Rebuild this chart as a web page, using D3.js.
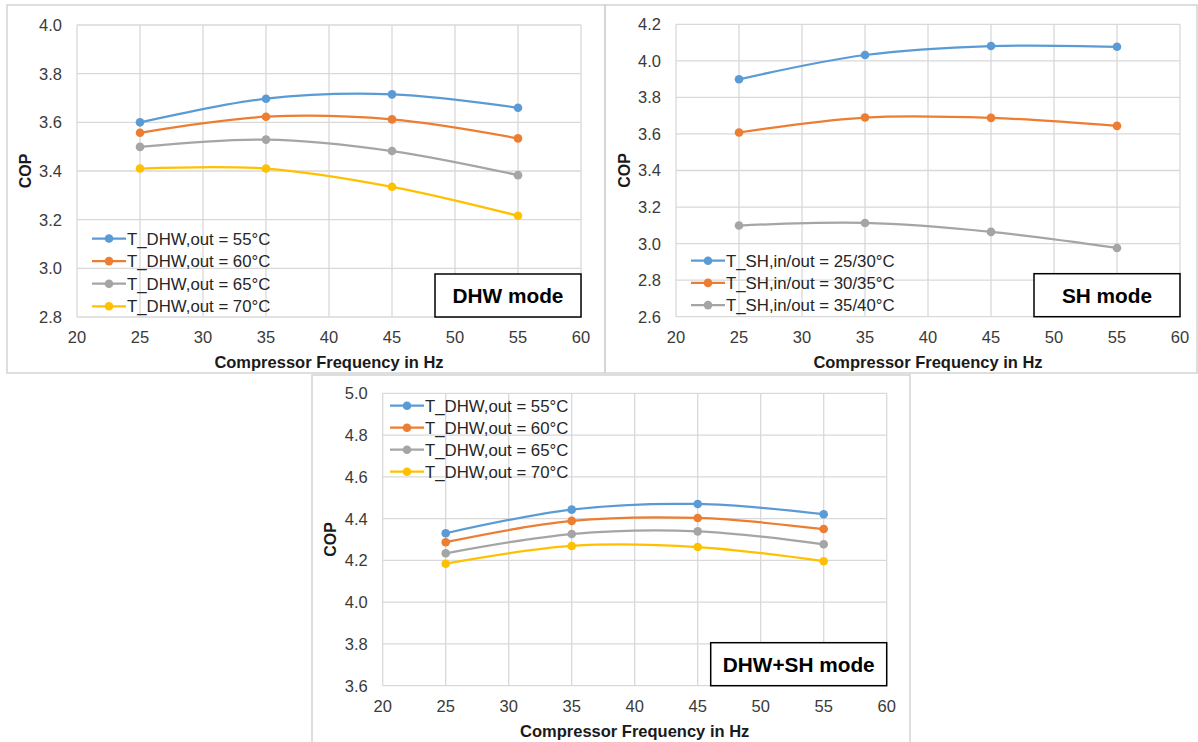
<!DOCTYPE html>
<html>
<head>
<meta charset="utf-8">
<script src="https://cdn.jsdelivr.net/npm/d3@7"></script>
<style>
  body { margin: 0; background: #fff; }
  svg { display: block; font-family: "Liberation Sans", Arial, sans-serif; }
</style>
</head>
<body>
<svg id="chart" width="1198" height="742"></svg>
<script>
// compressor frequency (x) shared by all three charts
var freqHz = [25, 35, 45, 55];
var xTicks = [20, 25, 30, 35, 40, 45, 50, 55, 60];

// DHW mode
var dhwNames = ["T_DHW,out = 55°C", "T_DHW,out = 60°C", "T_DHW,out = 65°C", "T_DHW,out = 70°C"];
var dhw55 = [3.60, 3.697, 3.715, 3.66];
var dhw60 = [3.557, 3.623, 3.612, 3.534];
var dhw65 = [3.499, 3.529, 3.482, 3.383];
var dhw70 = [3.41, 3.41, 3.335, 3.216];
var dhwYTicks = [2.8, 3.0, 3.2, 3.4, 3.6, 3.8, 4.0];

// SH mode
var shNames = ["T_SH,in/out = 25/30°C", "T_SH,in/out = 30/35°C", "T_SH,in/out = 35/40°C"];
var sh25 = [3.899, 4.032, 4.081, 4.077];
var sh30 = [3.608, 3.690, 3.688, 3.644];
var sh35 = [3.099, 3.113, 3.064, 2.976];
var shYTicks = [2.6, 2.8, 3.0, 3.2, 3.4, 3.6, 3.8, 4.0, 4.2];

// DHW+SH mode
var combNames = ["T_DHW,out = 55°C", "T_DHW,out = 60°C", "T_DHW,out = 65°C", "T_DHW,out = 70°C"];
var comb55 = [4.330, 4.443, 4.470, 4.421];
var comb60 = [4.287, 4.389, 4.403, 4.350];
var comb65 = [4.234, 4.326, 4.339, 4.277];
var comb70 = [4.184, 4.269, 4.264, 4.196];
var combYTicks = [3.6, 3.8, 4.0, 4.2, 4.4, 4.6, 4.8, 5.0];

var colors = ["#5b9bd5", "#ed7d31", "#a5a5a5", "#ffc000"];

var svg = d3.select("#chart");

function drawPanel(cfg) {
  var g = svg.append("g");

  // frame around the whole chart
  g.append("rect")
    .attr("x", cfg.frame[0]).attr("y", cfg.frame[1])
    .attr("width", cfg.frame[2] - cfg.frame[0]).attr("height", cfg.frame[3] - cfg.frame[1])
    .attr("fill", "none").attr("stroke", "#d4d4d4").attr("stroke-width", 1.5);

  var x = d3.scaleLinear().domain([20, 60]).range([cfg.plot[0], cfg.plot[2]]);
  var y = d3.scaleLinear().domain(d3.extent(cfg.yTicks)).range([cfg.plot[3], cfg.plot[1]]);

  // grid
  g.append("g").selectAll("line").data(cfg.yTicks).join("line")
    .attr("x1", cfg.plot[0]).attr("x2", cfg.plot[2])
    .attr("y1", function (d) { return y(d); }).attr("y2", function (d) { return y(d); })
    .attr("stroke", "#d9d9d9").attr("stroke-width", 1.3);
  g.append("g").selectAll("line").data(xTicks).join("line")
    .attr("y1", cfg.plot[1]).attr("y2", cfg.plot[3])
    .attr("x1", function (d) { return x(d); }).attr("x2", function (d) { return x(d); })
    .attr("stroke", "#d9d9d9").attr("stroke-width", 1.3);

  // tick labels
  g.append("g").selectAll("text").data(cfg.yTicks).join("text")
    .attr("x", cfg.plot[0] - 15).attr("y", function (d) { return y(d); })
    .attr("dy", "0.36em").attr("text-anchor", "end")
    .attr("font-size", 16.5).attr("fill", "#3a3a3a")
    .text(function (d) { return d3.format(".1f")(d); });
  g.append("g").selectAll("text").data(xTicks).join("text")
    .attr("x", function (d) { return x(d); }).attr("y", cfg.plot[3] + 20)
    .attr("dy", "0.36em").attr("text-anchor", "middle")
    .attr("font-size", 16.5).attr("fill", "#3a3a3a")
    .text(function (d) { return d; });

  // axis titles
  g.append("text")
    .attr("x", (cfg.plot[0] + cfg.plot[2]) / 2).attr("y", cfg.plot[3] + 45)
    .attr("dy", "0.36em").attr("text-anchor", "middle")
    .attr("font-size", 16.5).attr("font-weight", "bold").attr("fill", "#1a1a1a")
    .text("Compressor Frequency in Hz");
  g.append("text")
    .attr("transform", "translate(" + (cfg.plot[0] - 52) + "," + ((cfg.plot[1] + cfg.plot[3]) / 2) + ") rotate(-90)")
    .attr("dy", "0.36em").attr("text-anchor", "middle")
    .attr("font-size", 16).attr("font-weight", "bold").attr("fill", "#1a1a1a")
    .text("COP");

  // mode label box
  var bw = cfg.boxWidth, bh = 43;
  g.append("rect")
    .attr("x", cfg.plot[2] - bw).attr("y", cfg.plot[3] - bh)
    .attr("width", bw).attr("height", bh)
    .attr("fill", "#fff").attr("stroke", "#000").attr("stroke-width", 1.5);
  g.append("text")
    .attr("x", cfg.plot[2] - bw / 2).attr("y", cfg.plot[3] - bh / 2)
    .attr("dy", "0.36em").attr("text-anchor", "middle")
    .attr("font-size", 20.8).attr("font-weight", "bold").attr("fill", "#000")
    .text(cfg.mode);

  // series
  var line = d3.line()
    .x(function (d, i) { return x(freqHz[i]); })
    .y(function (d) { return y(d); })
    .curve(d3.curveCardinal.tension(0));

  cfg.series.forEach(function (vals, k) {
    g.append("path").datum(vals)
      .attr("d", line).attr("fill", "none")
      .attr("stroke", colors[k]).attr("stroke-width", 2.25);
    g.append("g").selectAll("circle").data(vals).join("circle")
      .attr("cx", function (d, i) { return x(freqHz[i]); })
      .attr("cy", function (d) { return y(d); })
      .attr("r", 4.3).attr("fill", colors[k]);
  });

  // legend
  var lg = g.append("g");
  cfg.names.forEach(function (name, k) {
    var ly = cfg.legend[1] + k * cfg.legend[2];
    var lx = cfg.legend[0];
    lg.append("line").attr("x1", lx).attr("x2", lx + 34).attr("y1", ly).attr("y2", ly)
      .attr("stroke", colors[k]).attr("stroke-width", 2.25);
    lg.append("circle").attr("cx", lx + 17).attr("cy", ly).attr("r", 4.3).attr("fill", colors[k]);
    lg.append("text").attr("x", lx + 35).attr("y", ly).attr("dy", "0.36em")
      .attr("font-size", 16.8).attr("fill", "#262626").text(name);
  });
}

drawPanel({
  frame: [7, 5, 605, 373],
  plot: [77, 25, 581, 317],
  yTicks: dhwYTicks,
  series: [dhw55, dhw60, dhw65, dhw70],
  names: dhwNames,
  legend: [92, 238.5, 22.6],
  mode: "DHW mode",
  boxWidth: 146
});

drawPanel({
  frame: [605, 5, 1197, 373],
  plot: [676, 24.3, 1180, 316.7],
  yTicks: shYTicks,
  series: [sh25, sh30, sh35],
  names: shNames,
  legend: [691, 260.7, 22.2],
  mode: "SH mode",
  boxWidth: 146
});

drawPanel({
  frame: [312, 375, 910, 760],
  plot: [382.7, 393.3, 886.7, 685.7],
  yTicks: combYTicks,
  series: [comb55, comb60, comb65, comb70],
  names: combNames,
  legend: [390, 405.7, 22],
  mode: "DHW+SH mode",
  boxWidth: 176
});
</script>
</body>
</html>
